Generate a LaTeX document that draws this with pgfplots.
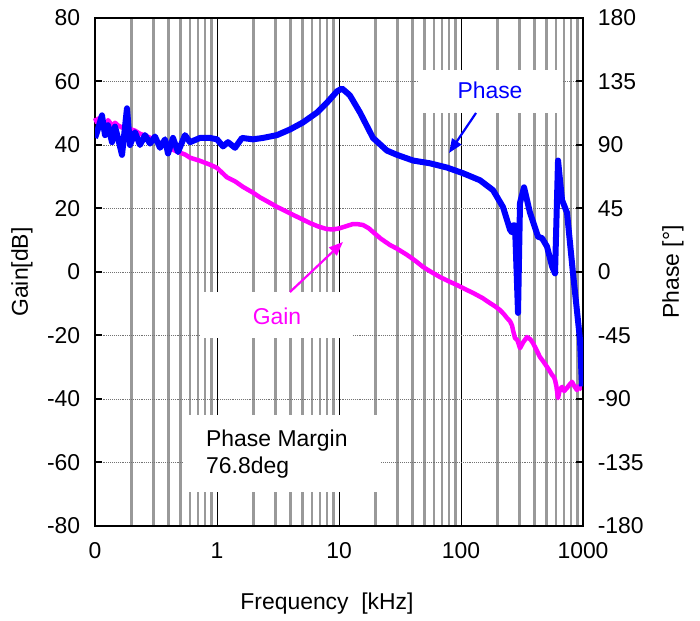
\documentclass[border=0pt]{standalone}
\usepackage{pgfplots}
\pgfplotsset{compat=1.18}
\usepackage{fontspec}
\setmainfont{Liberation Sans}
\usetikzlibrary{arrows.meta}
\newcommand\lf{\fontsize{23}{27}\selectfont}
\definecolor{gainc}{RGB}{255,0,255}
\definecolor{phasec}{RGB}{0,0,255}

\pgfplotstableread{
f g
0.1 48.5
0.104 47
0.108 48.5
0.114 47.5
0.121 46.5
0.128 47.8
0.133 47
0.140 46
0.146 47
0.154 46.2
0.166 45.5
0.183 46
0.194 45
0.213 44.5
0.234 43.5
0.257 43
0.282 42.3
0.310 41.5
0.341 40.5
0.375 39.8
0.436 38.5
0.479 37.8
0.547 37
0.601 36
0.726 35
0.876 33.8
1.0 32.8
1.12 31
1.208 29.8
1.40 28.6
1.634 26.8
1.97 25
2.252 23.5
2.65 22
3.102 20.5
3.6 19.3
4.198 18
5.0 16.6
5.786 15.4
6.8 14.3
7.97 13.5
9.0 13.4
10.19 13.8
11.6 14.5
13.02 15.1
14.0 15.1
15.73 14.8
17.5 13.8
19.0 12.6
22.0 10.5
26.18 8.5
30 7.3
36.08 5.4
42 3.6
48.81 1.6
57 0
67.29 -1.6
80 -3
92.73 -4.1
108 -5.4
125.5 -6.6
150 -8.2
172.9 -9.8
190 -10.8
208.8 -12
225 -13.3
238.3 -14.5
252.1 -15.5
261.8 -16.8
266.8 -18.3
277.1 -20.8
290 -21.5
304.5 -24
325 -22
347.5 -20.5
370 -21.2
389.2 -22.4
415 -24.5
444.1 -26.8
475 -28.3
507 -29.9
530 -31
557.2 -32.4
575 -33
589.7 -34
605 -36
624.1 -39.7
645 -37
673 -36.2
700 -37.5
739.4 -36.5
775 -35.5
812.6 -34.6
850 -36
892.9 -37.2
920 -36
944.9 -36.5
981.3 -37
}\gaindata

\pgfplotstableread{
f p
0.1 95
0.1038 99
0.1141 111
0.1208 97
0.1278 104
0.1378 92
0.1458 103
0.1543 95
0.1665 83
0.1829 116
0.1936 90
0.2128 99
0.2338 90
0.2570 97
0.2824 91
0.3103 96
0.3411 88
0.3748 94
0.3966 84
0.4358 95
0.4789 85
0.5466 97
0.6006 92
0.7258 95
0.8763 95
1.0 94
1.120 89
1.231 92
1.405 88
1.603 95
1.973 94
2.382 95
3.102 97
3.966 101
5.068 106
6.603 113
7.970 120
9.630 128
10.58 130
11.63 127
12.31 125
14.86 113
19.00 95
24.74 86
29.88 83
40.43 79
55.72 77
76.79 74
103.8 70
143.1 65
182.9 58
221.0 46
252.1 30
261.8 28
266.8 33
277.1 33
293.3 -29
304.5 49
328.5 60
367.7 42
427.6 25
461.2 24
507.0 18
557.2 4
589.7 -1
624.1 79
673.0 51
739.4 42
828.1 -1
944.9 -48
981.3 -81
}\phasedata

\begin{document}
\lf
\begin{tikzpicture}[x=1bp,y=1bp]
\path[use as bounding box] (0,0) rectangle (700,621);
\begin{axis}[
  at={(95bp,95bp)}, anchor=south west,
  width=488bp, height=508bp, scale only axis,
  xmode=log, xmin=0.1, xmax=1000,
  ymin=-80, ymax=80,
  xtick={0.1,1,10,100,1000},
  xticklabels={0,1,10,100,1000},
  minor xtick={0.2,0.3,0.4,0.5,0.6,0.7,0.8,0.9,2,3,4,5,6,7,8,9,20,30,40,50,60,70,80,90,200,300,400,500,600,700,800,900},
  ytick={-80,-60,-40,-20,0,20,40,60,80},
  yticklabels={-80,-60,-40,-20,0,20,40,60,80},
  ytick pos=left,
  tick align=inside,
  major tick length=7bp,
  minor tick length=0pt,
  xtick style={draw=none},
  ytick style={line width=2bp, black},
  xmajorgrids, xminorgrids, ymajorgrids,
  major x grid style={black, line width=0.8bp},
  minor x grid style={black!40, line width=2.6bp},
  major y grid style={black!55, line width=0.9bp, densely dotted},
  axis line style={line width=2.5bp},
  tick label style={font=\lf},
  xticklabel style={yshift=-9bp},
  yticklabel style={xshift=-7bp},
  clip=false,
]
\addplot[gainc, line width=4.5bp, line join=round] table[x=f,y=g] {\gaindata};
\end{axis}

% white label boxes
\fill[white] (418,508) rectangle (562,551);
\fill[white] (200,283) rectangle (353,329);
\fill[white] (183,129) rectangle (380,206);
\node[phasec, font=\lf] at (490,531) {Phase};
\node[gainc, font=\lf] at (277,305) {Gain};
\node[anchor=base west, font=\lf, inner sep=0pt] at (206,174) {Phase Margin};
\node[anchor=base west, font=\lf, inner sep=0pt] at (206,147) {76.8deg};
\draw[gainc, line width=2.2bp, -{Triangle[length=14bp,width=11bp]}] (290,329) -- (343,379);
\draw[phasec, line width=2.2bp, -{Triangle[length=14bp,width=11bp]}] (476,508) -- (449,468);

\begin{axis}[
  at={(95bp,95bp)}, anchor=south west,
  width=488bp, height=508bp, scale only axis,
  xmode=log, xmin=0.1, xmax=1000,
  ymin=-180, ymax=180,
  axis x line=none,
  axis y line*=right,
  ytick={-180,-135,-90,-45,0,45,90,135,180},
  yticklabels={-180,-135,-90,-45,0,45,90,135,180},
  tick align=inside,
  major tick length=7bp,
  ytick style={line width=2bp, black},
  axis line style={line width=2.5bp},
  tick label style={font=\lf},
  yticklabel style={xshift=7bp},
]
\addplot[phasec, line width=6bp, line join=round] table[x=f,y=p] {\phasedata};
\end{axis}

\node[rotate=90, font=\lf] at (22,349) {Gain[dB]};
\node[rotate=90, font=\lf] at (673,349) {Phase [°]};
\node[anchor=base, font=\lf] at (327,11) {Frequency\ \ [kHz]};
\end{tikzpicture}
\end{document}
